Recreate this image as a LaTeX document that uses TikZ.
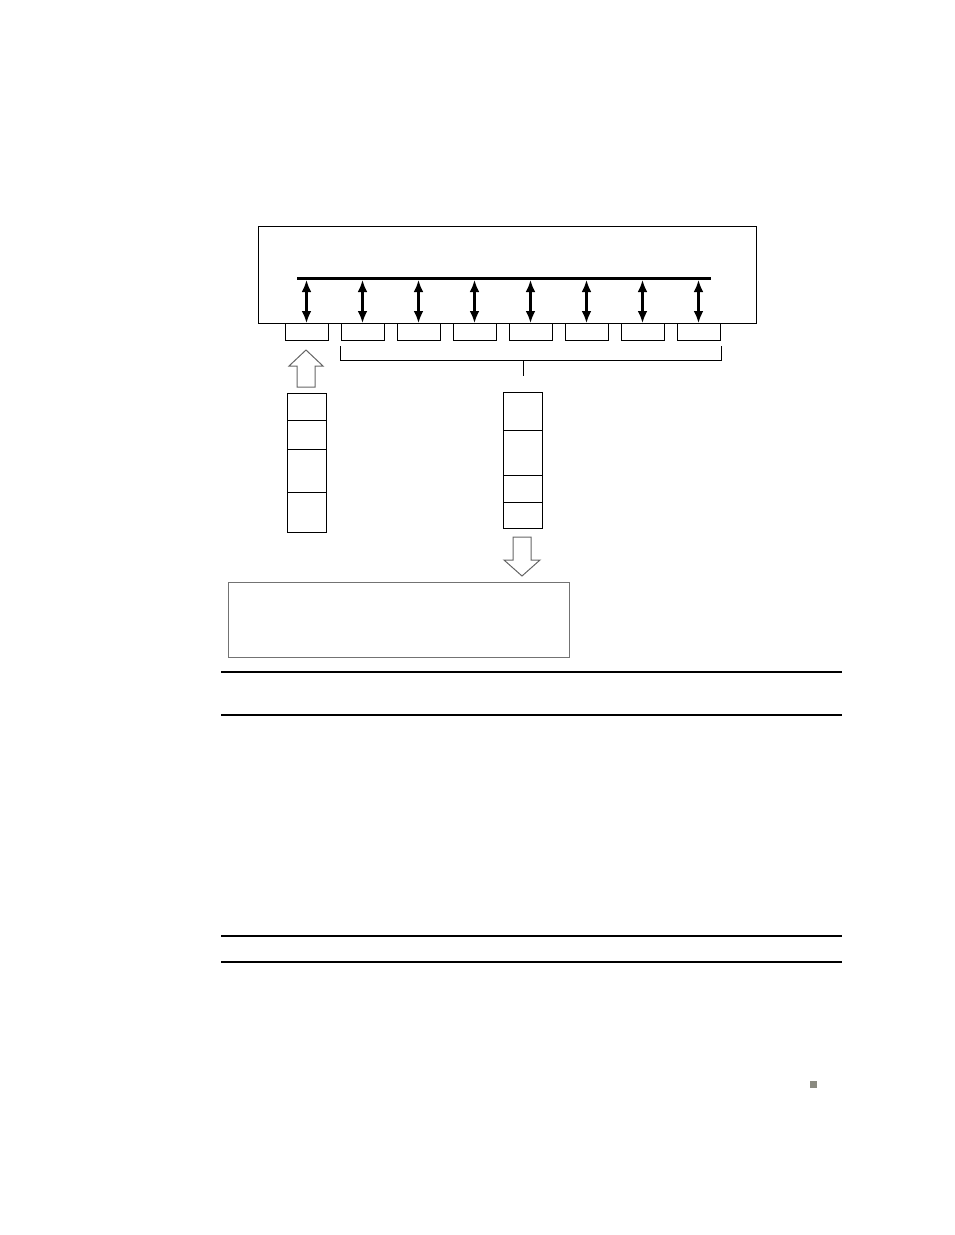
\documentclass[tikz,border=0pt]{standalone}
\usetikzlibrary{arrows.meta}
\begin{document}
\begin{tikzpicture}[x=1pt,y=-1pt,
  box/.style={draw, line width=1pt, inner sep=0pt, outer sep=0pt, anchor=north west},
  graybox/.style={box, draw=black!55},
  dbl/.style={line width=3.4pt, {Latex[length=12pt,width=10pt]}-{Latex[length=12pt,width=10pt]}},
  hollow/.style={draw=black!60, line width=1pt, fill=white},
  rule/.style={line width=1.3pt}]
\useasboundingbox (0,0) rectangle (954,1235);
% main box
\node[box, minimum width=498pt, minimum height=97pt] (main) at (258,226) {};
% bus
\coordinate (busL) at (297,278);
\coordinate (busR) at (711,278);
\draw[line width=3pt] (busL) -- (busR);
\coordinate (busA) at (0,280);
% ports and arrows
\foreach \i in {0,...,7}{
  \node[box, minimum width=43pt, minimum height=17pt] (p\i) at ({285+56*\i},323) {};
  \draw[dbl] (p\i.north) -- (p\i.north |- busA);
}
% bracket
\coordinate (bk1) at (340,346);
\coordinate (bk2) at (340,360);
\coordinate (bk3) at (721,360);
\coordinate (bk4) at (721,346);
\coordinate (stemT) at (523,360);
\coordinate (stemB) at (523,376);
\draw[line width=1pt] (bk1) -- (bk2) -- (bk3) -- (bk4);
\draw[line width=1pt] (stemT) -- (stemB);
% hollow up arrow
\draw[hollow] (297,387) -- (297,366) -- (289,366) -- (306,350) -- (323,366) -- (315,366) -- (315,387) -- cycle;
% left stack
\node[box, minimum width=39pt, minimum height=27pt] (L1) at (287,393) {};
\node[box, minimum width=39pt, minimum height=29pt] (L2) at (287,420) {};
\node[box, minimum width=39pt, minimum height=43pt] (L3) at (287,449) {};
\node[box, minimum width=39pt, minimum height=40pt] (L4) at (287,492) {};
% middle stack
\node[box, minimum width=39pt, minimum height=38pt] (M1) at (503,392) {};
\node[box, minimum width=39pt, minimum height=45pt] (M2) at (503,430) {};
\node[box, minimum width=39pt, minimum height=27pt] (M3) at (503,475) {};
\node[box, minimum width=39pt, minimum height=26pt] (M4) at (503,502) {};
% hollow down arrow
\draw[hollow] (513,537) -- (531,537) -- (531,560) -- (540,560) -- (522,576) -- (504,560) -- (513,560) -- cycle;
% bottom box
\node[graybox, minimum width=341pt, minimum height=75pt] (out) at (228,582) {};
% rules
\coordinate (r1L) at (221,672); \coordinate (r1R) at (842,672);
\coordinate (r2L) at (221,715); \coordinate (r2R) at (842,715);
\coordinate (r3L) at (221,936); \coordinate (r3R) at (842,936);
\coordinate (r4L) at (221,962); \coordinate (r4R) at (842,962);
\draw[rule] (r1L) -- (r1R);
\draw[rule] (r2L) -- (r2R);
\draw[rule] (r3L) -- (r3R);
\draw[rule] (r4L) -- (r4R);
% small square
\fill[fill={rgb,255:red,138;green,138;blue,128}] (810,1081) rectangle (817,1088);
\end{tikzpicture}
\end{document}
